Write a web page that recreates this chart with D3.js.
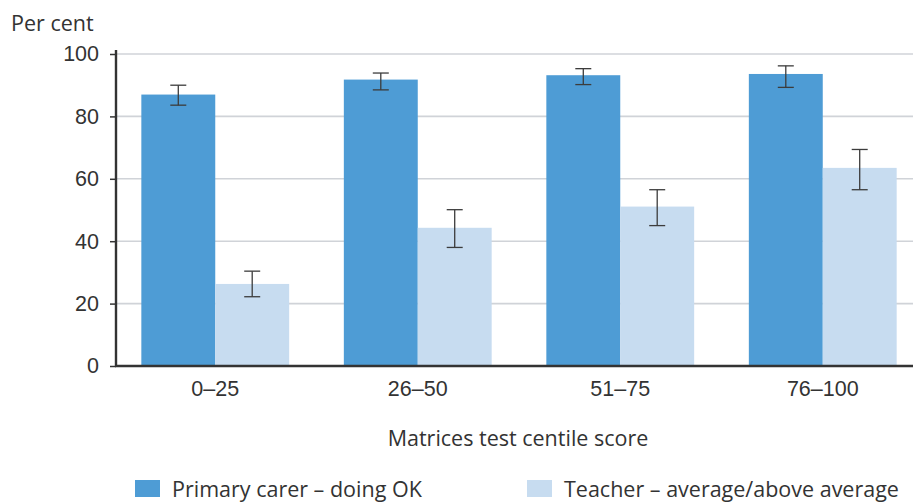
<!DOCTYPE html>
<html>
<head>
<meta charset="utf-8">
<script src="https://cdn.jsdelivr.net/npm/d3@7"></script>
<style>
  html, body { margin: 0; padding: 0; background: #fff; }
  svg { display: block; font-family: "Open Sans", "Noto Sans", sans-serif; }
</style>
</head>
<body>
<svg id="chart" width="913" height="502"></svg>
<script>
// ---- Data ----
const categories = ["0–25", "26–50", "51–75", "76–100"];
const seriesNames = ["Primary carer – doing OK", "Teacher – average/above average"];
const carerValues = [87.0, 91.8, 93.2, 93.6];
const carerLow = [83.6, 88.5, 90.2, 89.3];
const carerHigh = [90.0, 93.9, 95.3, 96.2];
const teacherValues = [26.3, 44.3, 51.1, 63.5];
const teacherLow = [22.2, 38.0, 45.0, 56.5];
const teacherHigh = [30.4, 50.1, 56.5, 69.4];
const yTicks = [0, 20, 40, 60, 80, 100];
const yLabel = "Per cent";
const xLabel = "Matrices test centile score";
const colors = ["#4e9cd5", "#c7dcf0"];

const svg = d3.select("#chart");
const textColor = "#333333";
const fs = "21.5px";

const y = d3.scaleLinear().domain([0, 100]).range([366, 54]);
const x0 = d3.scaleBand().domain(categories).range([114, 924])
  .paddingInner(0.27).paddingOuter(0.135);
const x1 = d3.scaleBand().domain([0, 1]).range([0, x0.bandwidth()]);

// gridlines
svg.append("g").selectAll("line").data(yTicks.filter(d => d > 0)).join("line")
  .attr("x1", 116).attr("x2", 913)
  .attr("y1", d => y(d)).attr("y2", d => y(d))
  .attr("stroke", "#d0d3d8").attr("stroke-width", 1.6);

// bars
const rows = categories.map((c, i) => ({
  cat: c,
  items: [
    { s: 0, v: carerValues[i], lo: carerLow[i], hi: carerHigh[i] },
    { s: 1, v: teacherValues[i], lo: teacherLow[i], hi: teacherHigh[i] }
  ]
}));

const groups = svg.append("g").selectAll("g").data(rows).join("g")
  .attr("transform", d => `translate(${x0(d.cat)},0)`);

groups.selectAll("rect").data(d => d.items).join("rect")
  .attr("x", d => x1(d.s))
  .attr("width", x1.bandwidth())
  .attr("y", d => y(d.v))
  .attr("height", d => y(0) - y(d.v))
  .attr("fill", d => colors[d.s]);

// error bars
const capW = 16;
const eb = groups.selectAll("g.err").data(d => d.items).join("g").attr("class", "err")
  .attr("stroke", "#3c3c3c").attr("stroke-width", 1.3);
eb.append("line")
  .attr("x1", d => x1(d.s) + x1.bandwidth() / 2).attr("x2", d => x1(d.s) + x1.bandwidth() / 2)
  .attr("y1", d => y(d.hi)).attr("y2", d => y(d.lo));
eb.append("line")
  .attr("x1", d => x1(d.s) + x1.bandwidth() / 2 - capW / 2).attr("x2", d => x1(d.s) + x1.bandwidth() / 2 + capW / 2)
  .attr("y1", d => y(d.hi)).attr("y2", d => y(d.hi));
eb.append("line")
  .attr("x1", d => x1(d.s) + x1.bandwidth() / 2 - capW / 2).attr("x2", d => x1(d.s) + x1.bandwidth() / 2 + capW / 2)
  .attr("y1", d => y(d.lo)).attr("y2", d => y(d.lo));

// y axis
const yAxis = svg.append("g").attr("transform", "translate(116,0)")
  .call(d3.axisLeft(y).tickValues(yTicks).tickSize(6).tickPadding(11));
yAxis.select(".domain").remove();
yAxis.selectAll(".tick line").attr("stroke", textColor).attr("stroke-width", 1.5);
yAxis.selectAll(".tick text").attr("fill", textColor)
  .style("font-size", fs).style("font-family", "inherit");
svg.append("line").attr("x1", 116).attr("x2", 116).attr("y1", 50).attr("y2", 367)
  .attr("stroke", textColor).attr("stroke-width", 2.4);

// x axis
const xAxis = svg.append("g").attr("transform", "translate(0,366)")
  .call(d3.axisBottom(x0).tickSize(0).tickPadding(15));
xAxis.select(".domain").remove();
xAxis.selectAll(".tick text").attr("fill", textColor)
  .style("font-size", fs).style("font-family", "inherit");
svg.append("line").attr("x1", 115).attr("x2", 913).attr("y1", 366).attr("y2", 366)
  .attr("stroke", textColor).attr("stroke-width", 2.4);

// labels
svg.append("text").attr("x", 11).attr("y", 31).text(yLabel)
  .attr("fill", textColor).style("font-size", fs);
svg.append("text").attr("x", 518).attr("y", 446).attr("text-anchor", "middle").text(xLabel)
  .attr("fill", textColor).style("font-size", fs);

// legend
const legendX = [135, 527];
const lg = svg.append("g").selectAll("g").data(seriesNames).join("g")
  .attr("transform", (d, i) => `translate(${legendX[i]},480)`);
lg.append("rect").attr("width", 25).attr("height", 17).attr("fill", (d, i) => colors[i]);
lg.append("text").attr("x", 37).attr("y", 17).text(d => d)
  .attr("fill", textColor).style("font-size", fs);
</script>
</body>
</html>
